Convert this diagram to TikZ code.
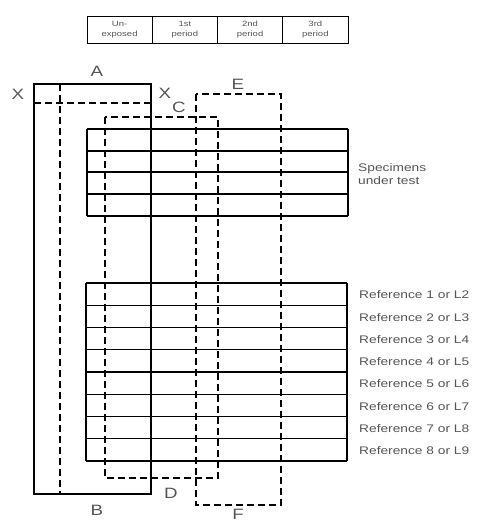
\documentclass[tikz,border=0pt]{standalone}
\usepackage{fontspec}
\setmainfont{Liberation Sans}[FakeStretch=1.25]
\usetikzlibrary{positioning}
\definecolor{inkgray}{RGB}{85,85,85}
\tikzset{
    cell/.style={
        draw,
        line width=0.6pt,
        minimum width=65.25pt,
        minimum height=27pt,
        inner sep=0pt,
        outer sep=0pt,
        align=center,
        text=inkgray,
        font=\fontsize{7.6}{10.5}\selectfont
    },
    frameline/.style={draw, line width=1.3pt},
    gridline/.style={draw, line width=1.2pt},
    dashframe/.style={draw, line width=1.2pt, dash pattern=on 7pt off 4pt},
    letter/.style={text=inkgray, inner sep=0pt, font=\fontsize{15}{15}\selectfont},
    rowlabel/.style={anchor=west, inner sep=0pt, text=inkgray, font=\fontsize{11}{13.5}\selectfont}
}
\begin{document}
\begin{tikzpicture}[x=1pt,y=-1pt]
\useasboundingbox (0,0) rectangle (479,523);

% Exposure legend
\node[cell] (unexp) at (119.6,29.5) {Un-\\exposed};
\node[cell, right=0pt of unexp] (first) {1st\\period};
\node[cell, right=0pt of first] (second) {2nd\\period};
\node[cell, right=0pt of second] (third) {3rd\\period};

% Specimens under test
\foreach \y in {129,151,172,194,216}{
    \draw[gridline] (87,\y) -- (348,\y);
}
\draw[gridline] (87,129) -- (87,216) (348,129) -- (348,216);
\node[rowlabel, align=left] (spec) at (358,174) {Specimens\\under test};

% Blue wool references
\foreach \i in {0,...,8}{
    \draw[gridline] (86,{283+22.25*\i}) -- (347,{283+22.25*\i});
}
\draw[gridline] (86,283) -- (86,461) (347,283) -- (347,461);
\foreach \i [count=\n from 2] in {1,...,8}{
    \node[rowlabel] (ref\i) at (359,{295+22.25*(\i-1)}) {Reference \i\ or L\n};
}

% Cover A-B with cut X-X
\draw[frameline] (34,84) rectangle (151,494);
\draw[dashframe] (34,103) -- (151,103);
\draw[dashframe] (60,84) -- (60,494);

% Covers C-D and E-F
\draw[dashframe] (105,117) rectangle (218,478);
\draw[dashframe] (196,94) rectangle (281,505);

% Letters
\node[letter] (xleft) at (18,94) {X};
\node[letter] (xright) at (165,93) {X};
\node[letter] (la) at (97,71) {A};
\node[letter] (lb) at (97,510) {B};
\node[letter] (lc) at (179,107) {C};
\node[letter] (ld) at (171,493) {D};
\node[letter] (le) at (238,84) {E};
\node[letter] (lf) at (238,514) {F};
\end{tikzpicture}
\end{document}
